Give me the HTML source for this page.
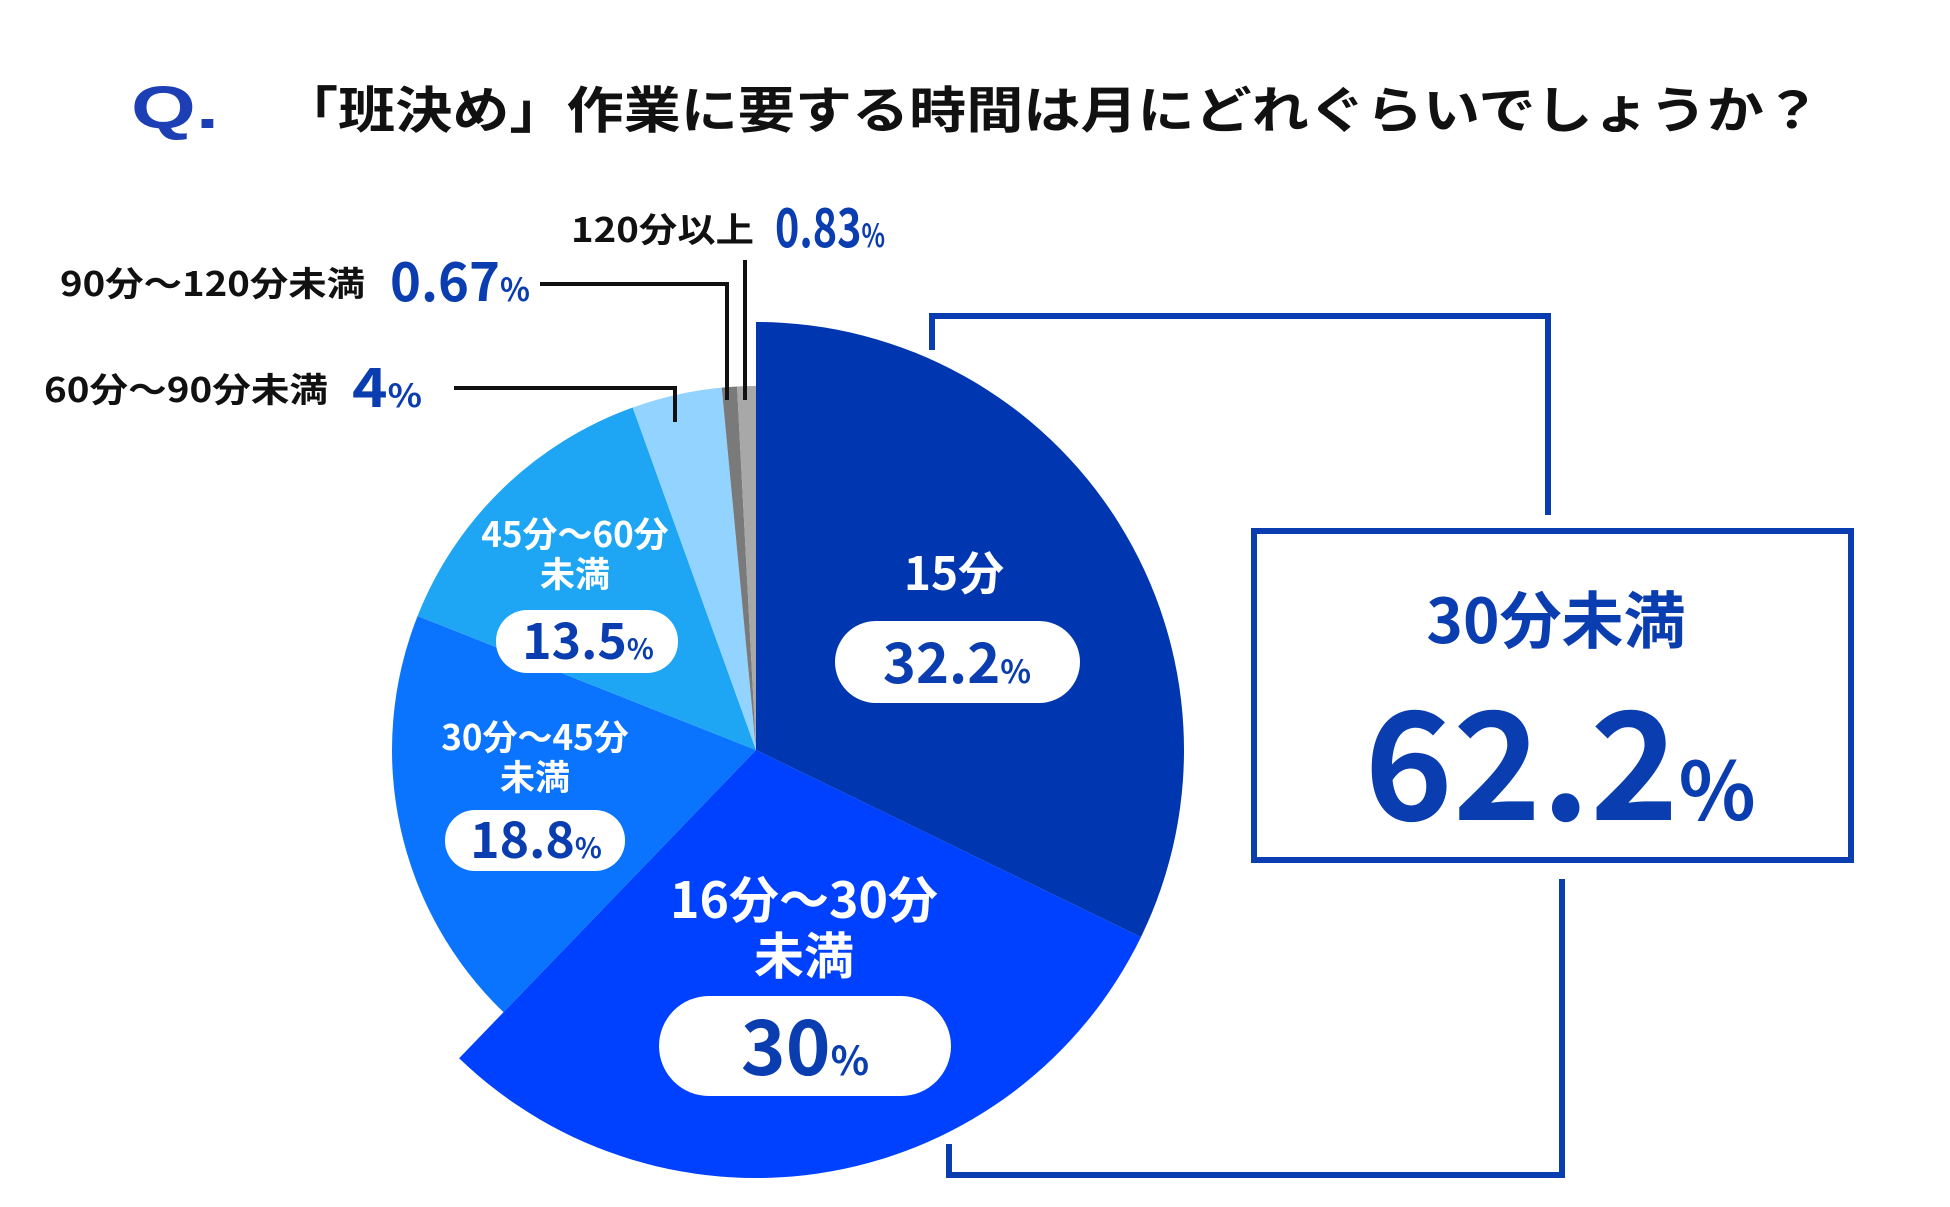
<!DOCTYPE html>
<html><head><meta charset="utf-8"><style>
html,body{margin:0;padding:0;background:#fff;}
svg{display:block;font-family:"Liberation Sans","Noto Sans CJK JP",sans-serif;font-weight:bold;}
</style></head><body>
<svg id="chart" width="1950" height="1207" viewBox="0 0 1950 1207" xmlns="http://www.w3.org/2000/svg">
<rect width="1950" height="1207" fill="#fff"/>
<text x="131" y="128" font-size="60" fill="#1d3fb5" textLength="88" lengthAdjust="spacingAndGlyphs">Q.</text>
<text x="281" y="128" font-size="50" fill="#111" font-family="Noto Sans CJK JP, sans-serif" textLength="1540" lengthAdjust="spacingAndGlyphs">「班決め」作業に要する時間は月にどれぐらいでしょうか？</text>
<g id="slices"></g>
<g id="leaders" fill="none" stroke="#111" stroke-width="4">
<polyline points="745,260 745,400"/>
<polyline points="540,284 727,284 727,400"/>
<polyline points="454,388 675,388 675,422"/>
</g>
<g font-family="Noto Sans CJK JP, sans-serif">
<text x="571" y="242" font-size="34" fill="#111" textLength="183" lengthAdjust="spacingAndGlyphs">120分以上</text>
<text x="775" y="247" font-size="54" fill="#0a3db0" textLength="110" lengthAdjust="spacingAndGlyphs">0.83<tspan font-size="32">%</tspan></text>
<text x="60" y="296" font-size="34" fill="#111" textLength="305" lengthAdjust="spacingAndGlyphs">90分〜120分未満</text>
<text x="390" y="301" font-size="54" fill="#0a3db0" textLength="140" lengthAdjust="spacingAndGlyphs">0.67<tspan font-size="32">%</tspan></text>
<text x="44" y="402" font-size="34" fill="#111" textLength="284" lengthAdjust="spacingAndGlyphs">60分〜90分未満</text>
<text x="352" y="407" font-size="54" fill="#0a3db0" textLength="70" lengthAdjust="spacingAndGlyphs">4<tspan font-size="32">%</tspan></text>
</g>
<g font-family="Noto Sans CJK JP, sans-serif" text-anchor="middle">
<text x="954" y="590" font-size="46" fill="#fff">15分</text>
<rect x="835" y="621" width="245" height="82" rx="41" fill="#fff"/>
<text x="957" y="683" font-size="56" fill="#0a3db0">32.2<tspan font-size="32">%</tspan></text>
<text x="804" y="918" font-size="50" fill="#fff">16分〜30分</text>
<text x="804" y="974" font-size="50" fill="#fff">未満</text>
<rect x="659" y="996" width="292" height="100" rx="50" fill="#fff"/>
<text x="805" y="1075" font-size="76" fill="#0a3db0">30<tspan font-size="40">%</tspan></text>
<text x="535" y="750" font-size="35" fill="#fff">30分〜45分</text>
<text x="535" y="790" font-size="35" fill="#fff">未満</text>
<rect x="445" y="810" width="180" height="61" rx="30" fill="#fff"/>
<text x="536" y="858" font-size="50" fill="#0a3db0">18.8<tspan font-size="28">%</tspan></text>
<text x="575" y="547" font-size="35" fill="#fff">45分〜60分</text>
<text x="575" y="587" font-size="35" fill="#fff">未満</text>
<rect x="496" y="610" width="182" height="63" rx="31" fill="#fff"/>
<text x="588" y="659" font-size="50" fill="#0a3db0">13.5<tspan font-size="28">%</tspan></text>
</g>
<g fill="none" stroke="#0a3db0" stroke-width="6">
<polyline points="932,350 932,316 1548,316 1548,515"/>
<polyline points="949,1144 949,1175 1562,1175 1562,879"/>
<rect x="1254" y="531" width="597" height="329"/>
</g>
<g font-family="Noto Sans CJK JP, sans-serif" text-anchor="middle" fill="#0a3db0">
<text x="1556" y="643" font-size="62">30分未満</text>
<text x="1560" y="820" font-size="150">62.2<tspan font-size="80">%</tspan></text>
</g>
</svg>
<script>
const categories = ["15分","16分〜30分未満","30分〜45分未満","45分〜60分未満","60分〜90分未満","90分〜120分未満","120分以上"];
const values = [32.2, 30, 18.8, 13.5, 4, 0.67, 0.83];
const colors = ["#0037b0","#0040ff","#0a74ff","#1ea6f5","#92d3ff","#7a7a7a","#a8a8a8"];
const cx = 756, cy = 750, rBig = 428, rSmall = 364;
const total = values.reduce((a,b)=>a+b,0);
function angleScale(v){ return v/total*2*Math.PI; }
function pt(a,r){ return [cx + r*Math.sin(a), cy - r*Math.cos(a)]; }
const g = document.getElementById('slices');
let acc = 0;
values.forEach((v,i)=>{
  const a0 = angleScale(acc), a1 = angleScale(acc+v);
  acc += v;
  const r = i < 2 ? rBig : rSmall;
  const p0 = pt(a0,r), p1 = pt(a1,r);
  const large = (a1-a0) > Math.PI ? 1 : 0;
  const path = document.createElementNS('http://www.w3.org/2000/svg','path');
  path.setAttribute('d', `M${cx},${cy} L${p0[0]},${p0[1]} A${r},${r} 0 ${large} 1 ${p1[0]},${p1[1]} Z`);
  path.setAttribute('fill', colors[i]);
  
  
  g.appendChild(path);
});
</script>
</body></html>
